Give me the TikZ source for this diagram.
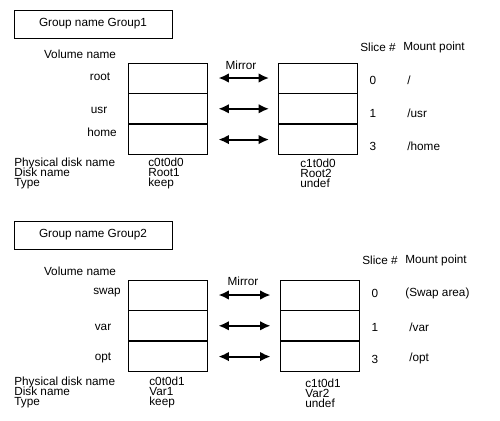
\documentclass[tikz,border=0pt]{standalone}
\usepackage{fontspec}
\setmainfont{Liberation Sans}
\usetikzlibrary{positioning,arrows.meta}

\begin{document}
\begin{tikzpicture}[
  x=0.02cm, y=-0.02cm,
  every node/.style={font={\fontsize{6.7}{5.7}\selectfont\lineskiplimit=-5pt}, inner sep=0pt},
  titlebox/.style={draw, line width=0.55pt, minimum width=3.16cm, minimum height=0.56cm},
  slice/.style={draw, line width=0.45pt, minimum width=1.58cm, minimum height=0.6cm},
  info/.style={anchor=west, align=left},
  mirror/.style={{Latex[length=6pt,width=5.5pt]}-{Latex[length=6pt,width=5.5pt]},
    line width=1.2pt, shorten <=0.22cm, shorten >=0.18cm},
  ]
  \useasboundingbox (0,0) rectangle (500,420);
  % Group1
  \node[titlebox] (g1title) at (93,24) {Group name Group1};
  \node (g1vol)   at (80,54)  {Volume name};
  \node (g1slice) at (378,47) {Slice \#};
  \node (g1mount) at (434,47) {Mount point};
  \node (g1mirror) at (241,65) {Mirror};
  \node[slice] (g1lroot) at (167.5,78) {};
  \node[slice, below=0pt of g1lroot] (g1lusr) {};
  \node[slice, below=0pt of g1lusr]  (g1lhome) {};
  \node[slice] (g1rroot) at (318,78) {};
  \node[slice, below=0pt of g1rroot] (g1rusr) {};
  \node[slice, below=0pt of g1rusr]  (g1rhome) {};
  \node (g1root) at (100,77)  {root};
  \node (g1usr)  at (99,110)  {usr};
  \node (g1home) at (102,132) {home};
  \node (g1n0) at (373,80)  {0};
  \node (g1n1) at (373,113) {1};
  \node (g1n3) at (373,146) {3};
  \node[anchor=west] (g1m0) at (407,80)  {/};
  \node[anchor=west] (g1m1) at (407,113) {/usr};
  \node[anchor=west] (g1m3) at (407,146) {/home};
  \node[info] (g1info)  at (14,173)  {Physical disk name\\Disk name\\Type};
  \node[info] (g1linfo) at (148,173) {c0t0d0\\Root1\\keep};
  \node[info] (g1rinfo) at (300,173) {c1t0d0\\Root2\\undef};
  \draw[mirror] (g1lroot) -- (g1rroot);
  \draw[mirror] (g1lusr)  -- (g1rusr);
  \draw[mirror] (g1lhome) -- (g1rhome);

  % Group2
  \node[titlebox] (g2title) at (93,235) {Group name Group2};
  \node (g2vol)   at (80,271)  {Volume name};
  \node (g2slice) at (380,260) {Slice \#};
  \node (g2mount) at (436,260) {Mount point};
  \node (g2mirror) at (243,281) {Mirror};
  \node[slice] (g2lswap) at (167.5,295) {};
  \node[slice, below=0pt of g2lswap] (g2lvar) {};
  \node[slice, below=0pt of g2lvar]  (g2lopt) {};
  \node[slice] (g2rswap) at (319.5,295) {};
  \node[slice, below=0pt of g2rswap] (g2rvar) {};
  \node[slice, below=0pt of g2rvar]  (g2ropt) {};
  \node (g2swap) at (107,293) {swap};
  \node (g2var)  at (103,327) {var};
  \node (g2opt)  at (103,358) {opt};
  \node (g2n0) at (375,293) {0};
  \node (g2n1) at (375,327) {1};
  \node (g2n3) at (375,359) {3};
  \node[anchor=west] (g2m0) at (405,293) {(Swap area)};
  \node[anchor=west] (g2m1) at (409,327) {/var};
  \node[anchor=west] (g2m3) at (409,358) {/opt};
  \node[info] (g2info)  at (14,392)  {Physical disk name\\Disk name\\Type};
  \node[info] (g2linfo) at (149,392) {c0t0d1\\Var1\\keep};
  \node[info] (g2rinfo) at (305,393) {c1t0d1\\Var2\\undef};
  \draw[mirror] (g2lswap) -- (g2rswap);
  \draw[mirror] (g2lvar)  -- (g2rvar);
  \draw[mirror] (g2lopt)  -- (g2ropt);
\end{tikzpicture}
\end{document}
